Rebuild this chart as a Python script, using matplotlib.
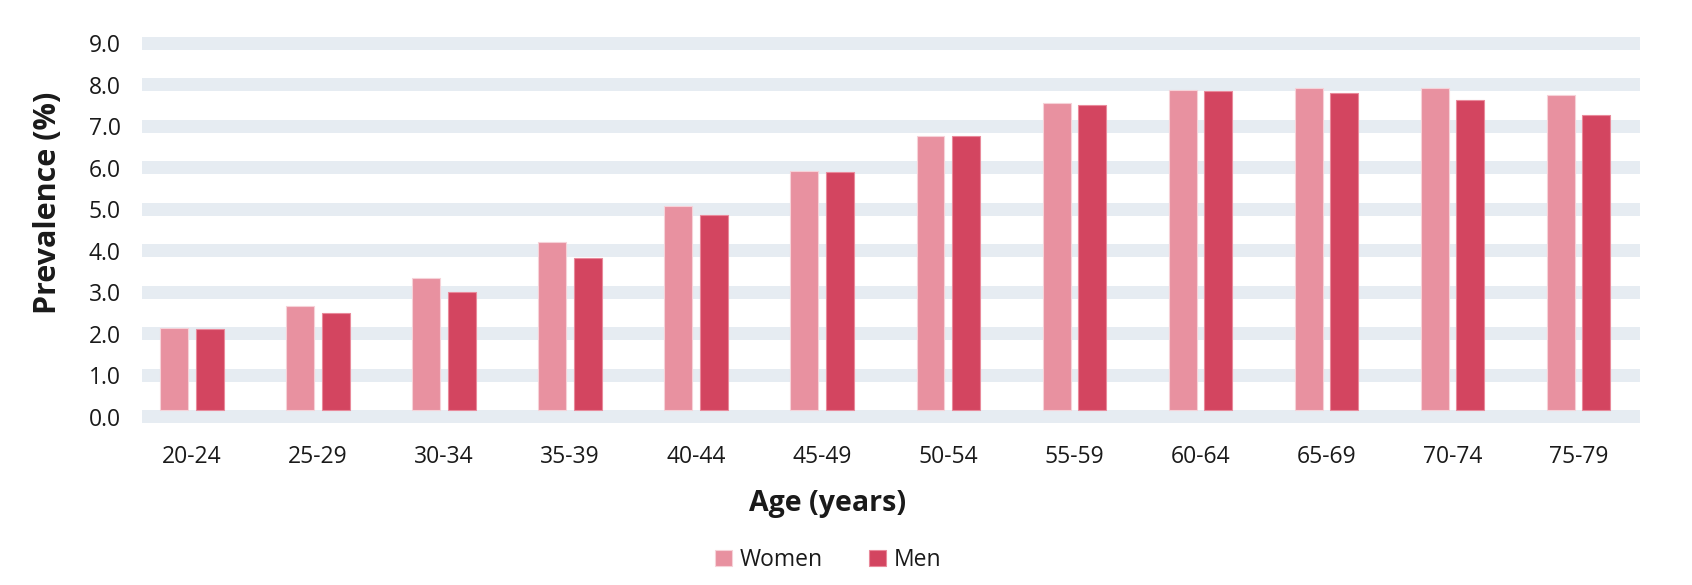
import matplotlib
matplotlib.use("Agg")
import matplotlib.pyplot as plt
import numpy as np

plt.rcParams['font.family'] = ['Open Sans', 'DejaVu Sans']

categories = ["20-24", "25-29", "30-34", "35-39", "40-44", "45-49",
              "50-54", "55-59", "60-64", "65-69", "70-74", "75-79"]
women = [1.98, 2.52, 3.18, 4.05, 4.92, 5.77, 6.61, 7.42, 7.71, 7.77, 7.77, 7.60]
men = [1.95, 2.34, 2.86, 3.67, 4.71, 5.74, 6.61, 7.36, 7.70, 7.66, 7.48, 7.13]
yticks = [0, 1, 2, 3, 4, 5, 6, 7, 8, 9]

W, H = 1692, 585
fig = plt.figure(figsize=(W / 100, H / 100), dpi=100)
ax = fig.add_axes([129 / W, 1 - 423 / H, (1641.5 - 129) / W, (423 - 37) / H])

band_h = 0.31
xmin_frac = (142 - 129) / (1641.5 - 129)
xmax_frac = (1640 - 129) / (1641.5 - 129)
for v in yticks:
    ax.axhspan(v - band_h, v, xmin=xmin_frac, xmax=xmax_frac,
               color='#E6ECF2', lw=0, zorder=0)

x = np.arange(len(categories))
bw = 0.222
off = 0.141
ax.bar(x - off, women, width=bw, color='#E891A0', edgecolor='#F6D2D8',
       linewidth=0.8, zorder=2, label='Women')
ax.bar(x + off, men, width=bw, color='#D34560', edgecolor='#E98A9B',
       linewidth=0.8, zorder=2, label='Men')

ax.set_xlim(-0.5, len(categories) - 0.5)
ax.set_ylim(-band_h, 9.0)

ax.set_xticks(x)
ax.set_xticklabels(categories, fontsize=16.5, color='#1a1a1a')
ax.set_yticks([v - band_h / 2 for v in yticks])
ax.set_yticklabels([f"{v:.1f}" for v in yticks], fontsize=16.5, color='#1a1a1a')
ax.tick_params(axis='both', length=0)
ax.tick_params(axis='x', pad=16)
ax.tick_params(axis='y', pad=6)
for s in ax.spines.values():
    s.set_visible(False)

fig.text(828 / W, 1 - 503 / H, "Age (years)", ha='center', va='center',
         fontsize=20.5, fontweight='bold', color='#1a1a1a')
fig.text(48 / W, 1 - 203 / H, "Prevalence (%)", ha='center', va='center',
         rotation=90, fontsize=22, fontweight='bold', color='#1a1a1a')

leg = fig.legend(loc='center', bbox_to_anchor=(828 / W, 1 - 560 / H), ncol=2,
                 frameon=False, fontsize=16.5, handlelength=0.75, handleheight=0.75,
                 handletextpad=0.35, columnspacing=2.0, borderaxespad=0)
for t in leg.get_texts():
    t.set_color('#1a1a1a')

fig.savefig("out.png", dpi=100)
